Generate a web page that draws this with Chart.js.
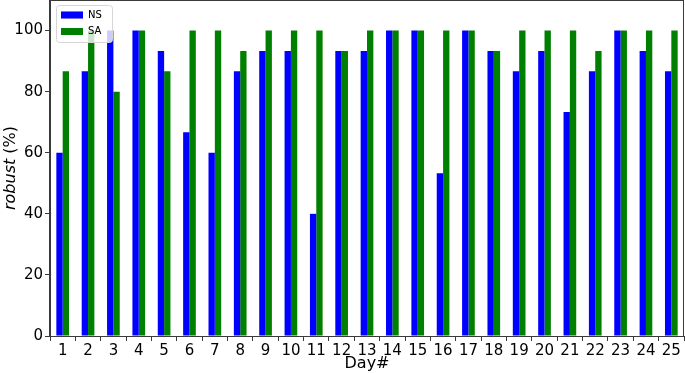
<!DOCTYPE html>
<html>
<head>
<meta charset="utf-8">
<script src="https://cdn.jsdelivr.net/npm/chart.js@4.4.0/dist/chart.umd.min.js"></script>
<style>
  body { margin: 0; background: #fff; }
  #wrap { width: 685px; height: 373px; position: relative; }
</style>
</head>
<body>
<div id="wrap"><canvas id="robustChart"></canvas></div>
<script>
// values (percent robust per day)
let days = ["1","2","3","4","5","6","7","8","9","10","11","12","13","14","15","16","17","18","19","20","21","22","23","24","25"];
let nsValues = [60, 86.7, 100, 100, 93.3, 66.7, 60, 86.7, 93.3, 93.3, 40, 93.3, 93.3, 100, 100, 53.3, 100, 93.3, 86.7, 93.3, 73.3, 86.7, 100, 93.3, 86.7];
let saValues = [86.7, 100, 80, 100, 86.7, 100, 100, 93.3, 100, 100, 100, 93.3, 100, 100, 100, 100, 100, 93.3, 100, 100, 100, 93.3, 100, 100, 100];
let yTicks = [0, 20, 40, 60, 80, 100];

let font = "'DejaVu Sans', sans-serif";
let frameColor = "#3a3a3a";
let legendPad = 6.5;

// box around the plot + legend frame + mixed-style y title
const extras = {
    id: "extras",
    afterLayout(chart) {
        // nudge the in-plot legend to the top-left corner like the original
        let a = chart.chartArea;
        chart.legend.left = a.left + 4.5;
        chart.legend.top = a.top + 3.5;
    },
    afterDatasetsDraw(chart) {
        // legend sits on top of the bars with a mostly opaque white box
        let ctx = chart.ctx;
        let lg = chart.legend;
        ctx.save();
        ctx.font = "10px " + font;
        let textW = Math.max(...lg.legendItems.map(it => ctx.measureText(it.text).width));
        let bx = lg.left + legendPad;
        let firstCenter = lg.top + legendPad + 5;
        let lastCenter = firstCenter + (lg.legendItems.length - 1) * (10 + legendPad);
        ctx.beginPath();
        ctx.roundRect(Math.round(bx - 5) + 0.5, Math.round(firstCenter - 10) + 0.5,
            Math.round(22 + 5 + textW + 10 + 5), Math.round(lastCenter - firstCenter + 20), 3);
        ctx.fillStyle = "rgba(255,255,255,0.8)";
        ctx.fill();
        ctx.strokeStyle = "#d6d6d6";
        ctx.lineWidth = 1;
        ctx.stroke();
        ctx.restore();
        lg.draw();
    },
    afterDraw(chart) {
        let ctx = chart.ctx;
        let a = chart.chartArea;
        ctx.save();
        ctx.strokeStyle = frameColor;
        ctx.lineWidth = 1;
        ctx.strokeRect(a.left - 0.5, a.top + 0.5, a.right - a.left, a.bottom - a.top);

        // y axis title: italic "robust" + normal " (%)"
        ctx.translate(15, (a.top + a.bottom) / 2);
        ctx.rotate(-Math.PI / 2);
        ctx.fillStyle = "#000";
        ctx.textBaseline = "alphabetic";
        ctx.font = "italic 16px " + font;
        let w1 = ctx.measureText("robust").width;
        ctx.font = "16px " + font;
        let w2 = ctx.measureText(" (%)").width;
        let x0 = -(w1 + w2) / 2;
        ctx.textAlign = "left";
        ctx.font = "italic 16px " + font;
        ctx.fillText("robust", x0, 0);
        ctx.font = "16px " + font;
        ctx.fillText(" (%)", x0 + w1, 0);
        ctx.restore();
    }
};

let ctx = document.getElementById("robustChart").getContext("2d");
let robustChart = new Chart(ctx, {
    type: "bar",
    data: {
        labels: days,
        datasets: [
            { label: "NS", data: nsValues, backgroundColor: "#0000ff", borderWidth: 0 },
            { label: "SA", data: saValues, backgroundColor: "#008000", borderWidth: 0 }
        ]
    },
    options: {
        responsive: true,
        maintainAspectRatio: false,
        animation: false,
        layout: { padding: { top: 0, right: 1, left: 0, bottom: 0 } },
        datasets: { bar: { categoryPercentage: 0.5, barPercentage: 1.0 } },
        plugins: {
            legend: {
                position: "chartArea",
                align: "start",
                labels: {
                    boxWidth: 22,
                    boxHeight: 7,
                    padding: legendPad,
                    color: "#000",
                    font: { family: font, size: 10 }
                }
            },
            tooltip: { enabled: false }
        },
        scales: {
            x: {
                grid: { display: true, drawOnChartArea: false, drawTicks: true, tickLength: 5, color: frameColor },
                border: { display: true, color: frameColor },
                ticks: { color: "#000", font: { family: font, size: 15 }, maxRotation: 0, autoSkip: false, padding: 1 },
                title: { display: true, text: "Day#", color: "#000", font: { family: font, size: 16 }, padding: { top: 0, bottom: 0 } },
                afterFit(scale) {
                    scale.height = 37;
                    scale.paddingLeft = 0;
                    scale.paddingRight = 0;
                }
            },
            y: {
                min: 0,
                max: 110,
                grid: { display: true, drawOnChartArea: false, drawTicks: true, tickLength: 5, color: frameColor },
                border: { display: true, color: frameColor },
                ticks: { color: "#000", font: { family: font, size: 15 }, padding: 2 },
                afterBuildTicks(scale) { scale.ticks = yTicks.map(v => ({ value: v })); },
                afterFit(scale) {
                    scale.width = 50;
                    scale.paddingTop = 0;
                    scale.paddingBottom = 0;
                }
            }
        }
    },
    plugins: [extras]
});
</script>
</body>
</html>
